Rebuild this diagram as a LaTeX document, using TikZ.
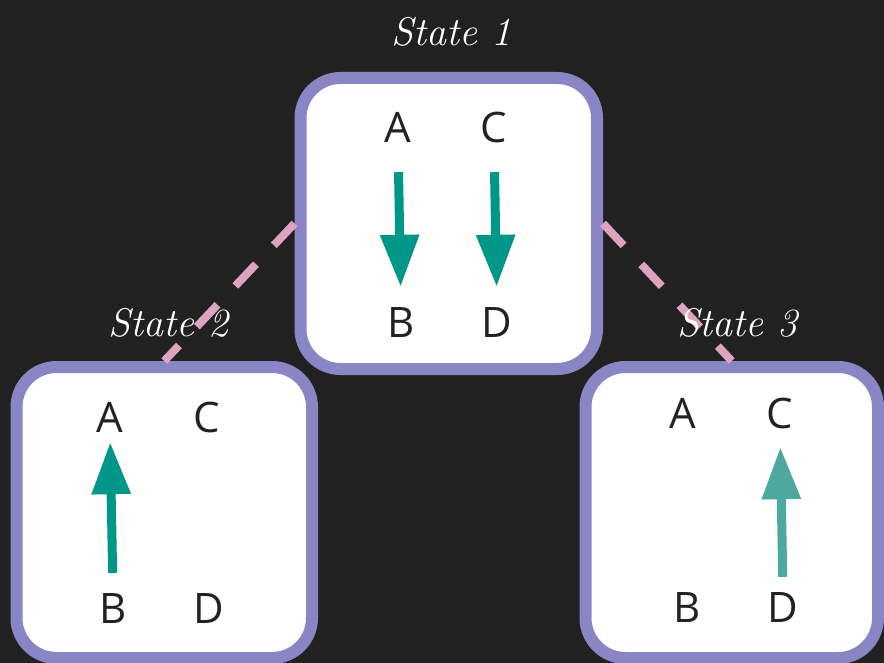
\documentclass[tikz,border=0pt]{standalone}
\usepackage{fontspec}
\newfontfamily\lettersf{Open Sans}
\usetikzlibrary{arrows.meta}
\definecolor{bg}{HTML}{212121}
\definecolor{boxborder}{HTML}{8A86C5}
\definecolor{dashpink}{HTML}{DDA3C0}
\definecolor{arrowteal}{HTML}{009688}
\definecolor{arrowtealL}{HTML}{4DA89F}
\definecolor{ink}{HTML}{222222}
\begin{document}
\begin{tikzpicture}[x=1pt,y=-1pt,
  statebox/.style={draw=boxborder, fill=white, line width=12pt, rounded corners=40pt,
    minimum height=291pt, inner sep=0pt},
  letter/.style={font=\lettersf\fontsize{42}{42}\selectfont, text=ink, inner sep=0pt,
    text height=30pt, text depth=0pt},
  statelabel/.style={font=\itshape\fontsize{40}{40}\selectfont, text=white, inner sep=0pt, anchor=base},
  link/.style={draw=dashpink, line width=8pt, dash pattern=on 30pt off 26pt},
  flip/.style={draw=arrowteal, line width=9pt, -{Triangle[length=52pt,width=37pt]}},
]
\useasboundingbox (0,0) rectangle (884,663);
\fill[bg] (0,0) rectangle (884,663);
\begin{scope}
\clip (0,0) rectangle (884,663);
% boxes
\node[statebox, minimum width=296.5pt] (box1) at (448.75,223.5) {};
\node[statebox, minimum width=295.5pt] (box2) at (164.25,512.5) {};
\node[statebox, minimum width=292.5pt] (box3) at (731.75,512.5) {};
% letters state 1
\node[letter] (s1A) at (398,128) {A};
\node[letter] (s1C) at (494,128) {C};
\node[letter] (s1B) at (401,322) {B};
\node[letter] (s1D) at (497,322) {D};
% letters state 2
\node[letter] (s2A) at (110,417) {A};
\node[letter] (s2C) at (207,417) {C};
\node[letter] (s2B) at (113,608) {B};
\node[letter] (s2D) at (209,608) {D};
% letters state 3
\node[letter] (s3A) at (683,413) {A};
\node[letter] (s3C) at (780,413) {C};
\node[letter] (s3B) at (687,607) {B};
\node[letter] (s3D) at (783,607) {D};
% arrows
\draw[flip, shorten <=29pt, shorten >=20pt] (s1A.south) -- (s1B.north);
\draw[flip, shorten <=29pt, shorten >=20pt] (s1C.south) -- (s1D.north);
\draw[flip, shorten <=20pt, shorten >=10pt] (s2B.north) -- (s2A.south);
\draw[flip, draw=arrowtealL, shorten <=15pt, shorten >=19pt] (s3D.north) -- (s3C.south);
% links
\draw[link] (box1.west) -- (box2.north);
\draw[link] (box1.east) -- (box3.north);
\end{scope}
% labels
\node[statelabel] (lab1) at (451,46) {State 1};
\node[statelabel] (lab2) at (168,336) {State 2};
\node[statelabel] (lab3) at (737,336) {State 3};
\end{tikzpicture}
\end{document}
